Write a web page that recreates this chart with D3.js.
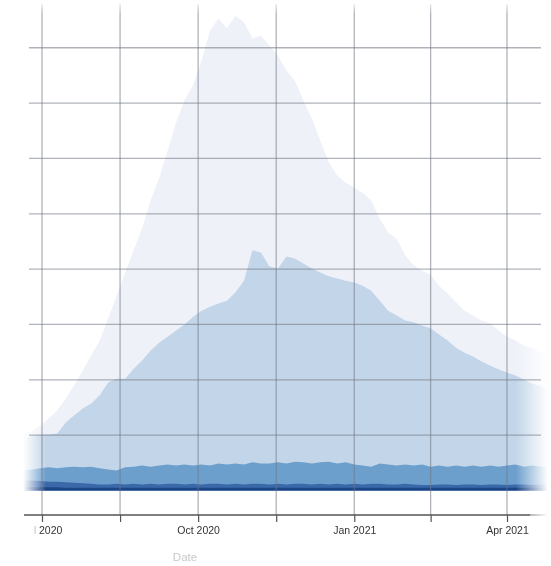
<!DOCTYPE html>
<html>
<head>
<meta charset="utf-8">
<script src="https://cdn.jsdelivr.net/npm/d3@7"></script>
<style>
  html, body { margin: 0; padding: 0; background: #ffffff; }
  svg { display: block; }
</style>
</head>
<body>
<div id="chart"></div>
<script>
// ---- Data (one value every 5 days from 20 Jun 2020) ----
const startDate = "2020-06-20";
const stepDays = 5;

const upperBand = [10.5,10.8,11.7,13.0,14.5,16.6,19.0,21.7,24.4,27.1,
  31.1,35.2,39.4,43.4,47.4,52.4,56.4,61.4,66.5,70.5,
  73.2,77.7,83.1,85.3,83.5,85.8,84.6,81.7,82.2,80.4,
  78.6,75.9,74.1,70.5,67.2,63.2,59.3,56.9,55.6,54.7,
  53.8,52.4,49.1,46.6,45.5,42.5,40.7,39.7,39.0,37.0,
  35.6,34.0,32.5,31.6,30.7,30.2,28.9,27.8,27.1,26.2,
  25.7,24.9,24.2];

const midBand = [9.4,9.8,10.1,10.1,10.3,12.3,13.6,14.8,15.7,17.2,
  19.5,20.2,20.2,22.0,23.5,25.3,26.7,27.8,28.9,30.0,
  31.4,32.5,33.2,33.8,34.3,35.8,37.9,43.4,43.0,40.5,
  40.1,42.3,41.9,41.0,40.1,39.4,38.7,38.3,37.9,37.6,
  37.0,36.1,34.3,32.5,31.6,30.7,30.4,29.8,29.3,28.2,
  27.1,25.8,24.9,24.2,23.3,22.6,21.9,21.3,20.8,20.1,
  19.3,18.8,18.4];

const lowBand = [3.6,3.8,4.0,4.2,4.0,4.2,4.3,4.2,4.3,4.0,
  3.8,3.6,4.2,4.3,4.5,4.3,4.5,4.7,4.5,4.7,
  4.5,4.7,4.5,4.9,4.7,4.9,4.7,5.1,4.9,4.9,
  5.1,4.9,5.2,5.1,4.9,5.1,5.2,4.9,5.1,4.7,
  4.5,4.3,4.9,4.7,4.5,4.7,4.5,4.7,4.3,4.5,
  4.3,4.5,4.3,4.5,4.3,4.5,4.3,4.5,4.7,4.3,
  4.5,4.3,4.3];

const baseBand = [1.7,1.8,1.7,1.6,1.6,1.5,1.4,1.3,1.2,1.1,
  1.1,1.2,1.1,1.2,1.1,1.2,1.1,1.2,1.2,1.1,
  1.2,1.1,1.2,1.2,1.1,1.2,1.1,1.2,1.2,1.1,
  1.2,1.1,1.2,1.2,1.1,1.2,1.1,1.2,1.1,1.2,
  1.1,1.2,1.2,1.1,1.1,1.2,1.1,1.0,1.0,1.1,
  1.1,1.0,1.1,1.1,1.0,1.1,1.1,1.0,1.1,1.1,
  1.0,1.1,1.1];

const floorBand = [0.6,0.6,0.6,0.6,0.6,0.5,0.5,0.5,0.5,0.5,
  0.5,0.5,0.5,0.5,0.5,0.5,0.5,0.5,0.5,0.5,
  0.5,0.5,0.5,0.5,0.5,0.5,0.5,0.5,0.5,0.5,
  0.5,0.5,0.5,0.5,0.5,0.5,0.5,0.5,0.5,0.5,
  0.5,0.5,0.5,0.5,0.5,0.5,0.5,0.5,0.5,0.5,
  0.5,0.5,0.5,0.5,0.5,0.5,0.5,0.5,0.5,0.5,
  0.5,0.5,0.5];

const gridDates = ["2020-07-01","2020-08-16","2020-10-01","2020-11-16","2021-01-01","2021-02-15","2021-04-01"];
const labelDates = ["2020-07-01","2020-10-01","2021-01-01","2021-04-01"];
const yGridValues = [10,20,30,40,50,60,70,80];
const xTitle = "Date";

// ---- Build ----
const W = 551, H = 566;
const parse = d3.utcParse("%Y-%m-%d");
const t0 = parse(startDate).getTime();
const dates = upperBand.map((_, i) => new Date(t0 + i * stepDays * 864e5));

const x = d3.scaleUtc()
  .domain([parse("2020-07-01"), parse("2021-04-01")])
  .range([42, 507]);
const y = d3.scaleLinear().domain([0, 90]).range([490.5, -7.6]);

const svg = d3.select("#chart").append("svg")
  .attr("width", W).attr("height", H);

const defs = svg.append("defs");
const blur = defs.append("filter").attr("id", "soft")
  .attr("x", "-5%").attr("y", "-5%").attr("width", "110%").attr("height", "110%");
blur.append("feGaussianBlur").attr("stdDeviation", 0.75);

function grad(id, x1, x2, stops) {
  const g = defs.append("linearGradient").attr("id", id)
    .attr("gradientUnits", "userSpaceOnUse")
    .attr("x1", x1[0]).attr("y1", x1[1]).attr("x2", x2[0]).attr("y2", x2[1]);
  stops.forEach(s => g.append("stop").attr("offset", s[0])
    .attr("stop-color", "#fff").attr("stop-opacity", s[1]));
}
grad("fadeL", [0,0], [46,0], [[0,1],[0.5,1],[1,0]]);
grad("fadeR", [516,0], [548,0], [[0,0],[1,1]]);
grad("fadeT", [0,0], [0,14], [[0,1],[1,0]]);
grad("fadeLbl", [0,0], [38,0], [[0,1],[0.88,1],[1,0]]);

const root = svg.append("g").attr("filter", "url(#soft)");
root.append("rect").attr("width", W).attr("height", H).attr("fill", "#fff");

const layers = [
  { values: upperBand, color: "#eff1f9" },
  { values: midBand,   color: "#c3d6e9" },
  { values: lowBand,   color: "#6d9fcd" },
  { values: baseBand,  color: "#3b68a9" },
  { values: floorBand, color: "#1f4686" }
];

const area = vals => d3.area()
  .x((d, i) => x(dates[i]))
  .y0(y(0))
  .y1(d => y(d))
  .curve(d3.curveLinear)(vals);

root.append("g").selectAll("path").data(layers).join("path")
  .attr("d", d => area(d.values))
  .attr("fill", d => d.color);

// fades over the marks
root.append("rect").attr("x", 0).attr("y", 0).attr("width", 46).attr("height", 512).attr("fill", "url(#fadeL)");
root.append("rect").attr("x", 516).attr("y", 0).attr("width", 35).attr("height", 512).attr("fill", "url(#fadeR)");
root.append("rect").attr("x", 548).attr("y", 0).attr("width", 3).attr("height", 512).attr("fill", "#fff");

// grid
const grid = root.append("g").attr("stroke", "#6f7480").attr("stroke-opacity", 0.55).attr("stroke-width", 1.3);
grid.selectAll("line.h").data(yGridValues).join("line").attr("class", "h")
  .attr("x1", 29).attr("x2", 541)
  .attr("y1", d => y(d)).attr("y2", d => y(d));
grid.selectAll("line.v").data(gridDates).join("line").attr("class", "v")
  .attr("x1", d => x(parse(d))).attr("x2", d => x(parse(d)))
  .attr("y1", 4).attr("y2", 515);

root.append("rect").attr("x", 0).attr("y", 0).attr("width", W).attr("height", 14).attr("fill", "url(#fadeT)");

// x axis
const axisY = 515;
const labelSet = new Set(labelDates);
const axis = d3.axisBottom(x)
  .tickValues(gridDates.map(parse))
  .tickSize(7)
  .tickFormat(d => labelSet.has(d3.utcFormat("%Y-%m-%d")(d)) ? d3.utcFormat("%b %Y")(d) : "");
const ax = root.append("g").attr("transform", `translate(0,${axisY})`).call(axis);
ax.select(".domain").remove();
ax.selectAll(".tick line").attr("stroke", "#555").attr("stroke-width", 1.2);
ax.selectAll(".tick text")
  .attr("y", 12)
  .attr("fill", "#333")
  .style("font-family", "'Liberation Sans', Arial, sans-serif")
  .style("font-size", "10.5px");
root.append("line").attr("x1", 24).attr("x2", 546).attr("y1", axisY).attr("y2", axisY)
  .attr("stroke", "#555").attr("stroke-width", 1.5);

root.append("rect").attr("x", 0).attr("y", 522).attr("width", 38).attr("height", 23).attr("fill", "url(#fadeLbl)");
root.append("rect").attr("x", 530).attr("y", 505).attr("width", 21).attr("height", 20).attr("fill", "url(#fadeR)");

root.append("text")
  .attr("x", 185).attr("y", 561)
  .attr("text-anchor", "middle")
  .attr("fill", "#c8c8c8")
  .style("font-family", "'Liberation Sans', Arial, sans-serif")
  .style("font-size", "11.5px")
  .text(xTitle);
</script>
</body>
</html>
